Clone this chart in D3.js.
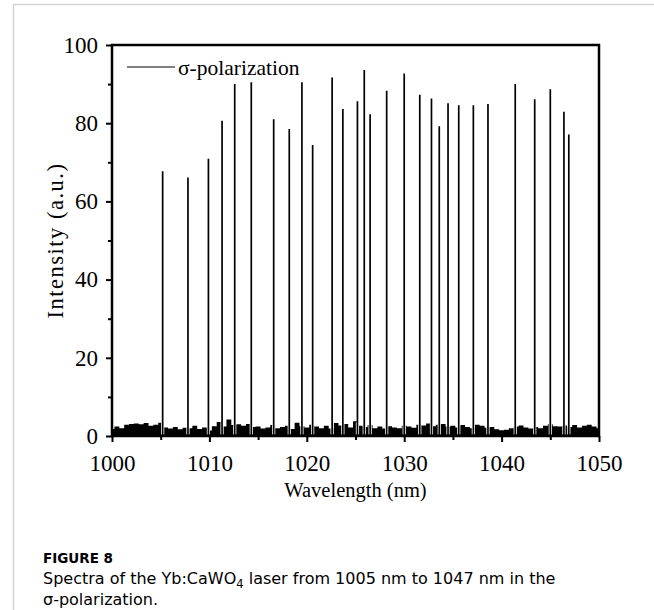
<!DOCTYPE html>
<html>
<head>
<meta charset="utf-8">
<script src="https://cdn.jsdelivr.net/npm/d3@7/dist/d3.min.js"></script>
<style>
    body { margin: 0; background: #fff; }
    svg text { font-family: "Liberation Serif", "Times New Roman", serif; fill: #000; }
    svg .caption { font-family: "DejaVu Sans", "Noto Sans", sans-serif; }
</style>
</head>
<body>
<div id="chart"></div>
<script>
// laser lines: centre wavelength (nm) and peak height (a.u.)
var peakWl = [1005.2, 1007.8, 1009.9, 1011.3, 1012.6, 1014.3, 1016.6, 1018.2, 1019.5, 1020.6,
    1022.6, 1023.7, 1025.2, 1025.9, 1026.5, 1028.2, 1030.0, 1031.6, 1032.8, 1033.6,
    1034.5, 1035.6, 1037.1, 1038.6, 1041.4, 1043.4, 1045.0, 1046.4, 1046.9];
var peakHeight = [67.7, 66.1, 70.9, 80.6, 90.0, 90.5, 81.0, 78.5, 90.5, 74.4,
    91.7, 83.6, 85.6, 93.6, 82.3, 88.3, 92.7, 87.3, 86.3, 79.2,
    85.1, 84.6, 84.6, 84.9, 90.0, 86.1, 88.7, 82.9, 77.1];

// noise floor, upper edge read every 0.5 nm from 1000 to 1050
var noiseStart = 1000, noiseStep = 0.5;
var noiseTop = [1.8, 2.4, 2.0, 2.9, 3.1, 3.2, 3.0, 3.3, 2.6, 2.9,
    3.4, 2.2, 1.9, 2.3, 1.7, 2.1, 2.0, 2.6, 1.8, 2.2,
    1.4, 2.5, 3.6, 2.4, 4.2, 2.8, 3.0, 2.6, 3.1, 2.3,
    2.4, 1.9, 2.2, 2.8, 2.0, 2.3, 2.6, 1.8, 3.4, 2.5,
    2.2, 2.9, 2.4, 2.0, 2.6, 1.9, 3.3, 2.7, 3.1, 2.2,
    3.8, 2.6, 2.3, 2.8, 2.0, 2.4, 1.9, 2.5, 2.2, 2.0,
    2.6, 2.4, 2.1, 2.9, 2.7, 3.2, 2.5, 2.9, 3.1, 2.4,
    2.6, 2.2, 2.8, 2.3, 2.0, 2.9, 2.6, 2.1, 2.3, 1.7,
    1.5, 1.6, 2.0, 2.4, 2.7, 2.2, 1.9, 2.3, 2.0, 2.6,
    3.0, 2.5, 2.4, 2.7, 2.3, 2.8, 2.2, 2.6, 2.9, 2.4,
    2.0];

var xTicks = [1000, 1010, 1020, 1030, 1040, 1050];
var xMinor = [1005, 1015, 1025, 1035, 1045];
var yTicks = [0, 20, 40, 60, 80, 100];
var yMinor = [10, 30, 50, 70, 90];

function SpectrumChart(options) {

    var ele = options.ele || "body";
    var width = options.width || 654,
        height = options.height || 610;

    var svg = d3.select(ele).append("svg")
        .attr("width", width)
        .attr("height", height);

    var x = d3.scaleLinear().domain([1000, 1050]).range([112, 599]);
    var y = d3.scaleLinear().domain([0, 100]).range([436, 45]);

    // card border
    svg.append("path")
        .attr("d", "M13.5," + height + "V4.5H" + width)
        .attr("fill", "none")
        .attr("stroke", "#d4d4d4")
        .attr("stroke-width", 1.5);

    var plot = svg.append("g");

    // noise floor
    var noise = noiseTop.map(function(v, i) { return { wl: noiseStart + i * noiseStep, v: v }; });
    plot.append("path")
        .datum(noise)
        .attr("fill", "#000")
        .attr("d", d3.area()
            .curve(d3.curveStep)
            .x(function(d) { return x(d.wl); })
            .y0(y(0))
            .y1(function(d) { return y(d.v); }));

    var peaks = peakWl.map(function(w, i) { return { wl: w, h: peakHeight[i] }; });

    // quiet gap either side of each line
    plot.selectAll(".gap")
        .data(peaks)
        .enter().append("line")
        .attr("class", "gap")
        .attr("x1", function(d) { return x(d.wl); })
        .attr("x2", function(d) { return x(d.wl); })
        .attr("y1", y(0) - 1.5)
        .attr("y2", y(3.5))
        .attr("stroke", "#fff")
        .attr("stroke-width", 3.2);

    plot.selectAll(".peak")
        .data(peaks)
        .enter().append("line")
        .attr("class", "peak")
        .attr("x1", function(d) { return x(d.wl); })
        .attr("x2", function(d) { return x(d.wl); })
        .attr("y1", y(0))
        .attr("y2", function(d) { return y(d.h); })
        .attr("stroke", "#000")
        .attr("stroke-width", 1.7);

    // axes
    svg.append("g")
        .attr("transform", "translate(0," + y(0) + ")")
        .call(d3.axisBottom(x).tickValues(xTicks).tickSize(6).tickPadding(13).tickFormat(d3.format("d")));
    svg.append("g")
        .attr("transform", "translate(0," + y(0) + ")")
        .call(d3.axisBottom(x).tickValues(xMinor).tickSize(4).tickFormat(""));

    svg.append("g")
        .attr("transform", "translate(" + x(1000) + ",0)")
        .call(d3.axisLeft(y).tickValues(yTicks).tickSize(6).tickPadding(8));
    svg.append("g")
        .attr("transform", "translate(" + x(1000) + ",0)")
        .call(d3.axisLeft(y).tickValues(yMinor).tickSize(4).tickFormat(""));

    svg.selectAll(".domain").remove();
    svg.selectAll(".tick line").attr("stroke", "#000").attr("stroke-width", 2);
    svg.selectAll(".tick text").style("font-size", "23px").attr("fill", "#000");

    // frame
    svg.append("rect")
        .attr("x", x(1000))
        .attr("y", y(100))
        .attr("width", x(1050) - x(1000))
        .attr("height", y(0) - y(100))
        .attr("fill", "none")
        .attr("stroke", "#000")
        .attr("stroke-width", 2.5);

    // legend
    svg.append("line")
        .attr("x1", 127).attr("x2", 175)
        .attr("y1", 67).attr("y2", 67)
        .attr("stroke", "#000").attr("stroke-width", 1.2);
    svg.append("text")
        .attr("x", 178).attr("y", 75)
        .style("font-size", "21.5px")
        .text("σ-polarization");

    // axis titles
    svg.append("text")
        .attr("x", (x(1000) + x(1050)) / 2)
        .attr("y", 497)
        .attr("text-anchor", "middle")
        .style("font-size", "20.5px")
        .text("Wavelength (nm)");
    svg.append("text")
        .attr("transform", "translate(63," + y(50) + ") rotate(-90)")
        .attr("text-anchor", "middle")
        .style("font-size", "22.5px")
        .style("letter-spacing", "1.5px")
        .text("Intensity (a.u.)");

    // caption
    svg.append("text")
        .attr("class", "caption")
        .attr("x", 43).attr("y", 563)
        .style("font-size", "13.5px")
        .style("font-weight", "bold")
        .attr("fill", "#777")
        .text("FIGURE 8");
    var cap = svg.append("text")
        .attr("class", "caption")
        .attr("x", 43).attr("y", 584)
        .style("font-size", "16px")
        .attr("fill", "#666");
    cap.append("tspan").text("Spectra of the Yb:CaWO");
    cap.append("tspan").attr("dy", 4).style("font-size", "11.5px").text("4");
    cap.append("tspan").attr("dy", -4).text(" laser from 1005 nm to 1047 nm in the");
    svg.append("text")
        .attr("class", "caption")
        .attr("x", 43).attr("y", 605)
        .style("font-size", "16px")
        .attr("fill", "#666")
        .text("σ-polarization.");

    return svg;
}

SpectrumChart({ ele: "#chart", width: 654, height: 610 });
</script>
</body>
</html>
